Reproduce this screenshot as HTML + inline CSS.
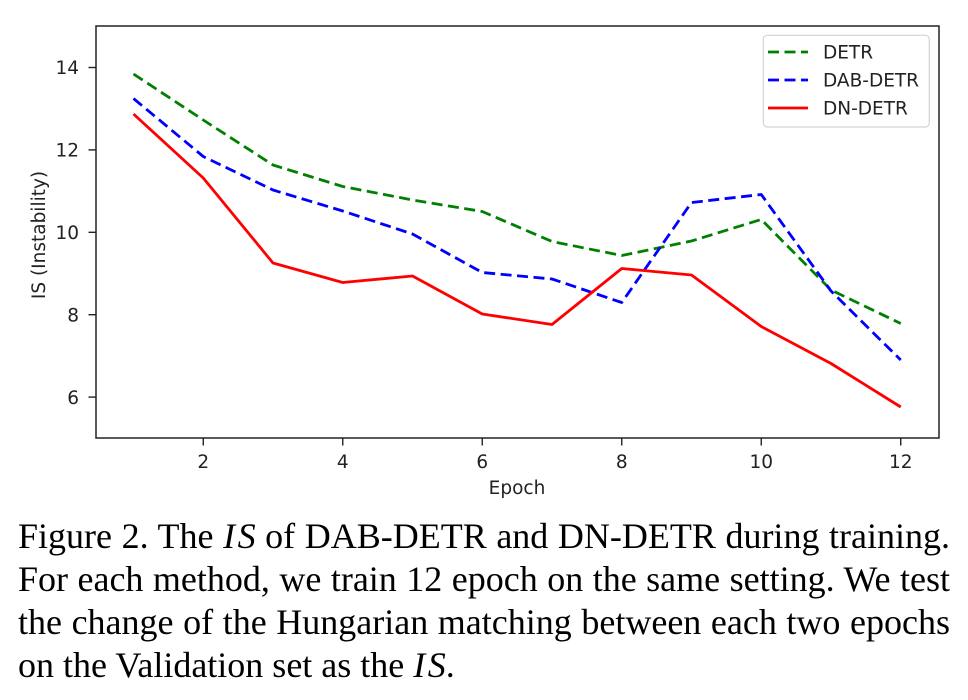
<!DOCTYPE html>
<html>
<head>
<meta charset="utf-8">
<style>
  html, body { margin:0; padding:0; background:#fff; }
  body { width:968px; height:700px; position:relative; overflow:hidden; }
  svg { position:absolute; left:0; top:0; }
  .cap { position:absolute; left:18px; width:932px; font-family:"Liberation Serif", serif; font-size:36px; line-height:43.3px; color:#000; white-space:nowrap; }
  .j { text-align:justify; text-align-last:justify; white-space:normal; }
  .cap i { letter-spacing:2.5px; }
  .cap i span { letter-spacing:0; }
</style>
</head>
<body>
<svg width="968" height="700" viewBox="0 0 968 700" xmlns="http://www.w3.org/2000/svg">
  <g font-family="DejaVu Sans, sans-serif" font-size="18.5" fill="#222">
    <g stroke="#222" stroke-width="1.4">
      <line x1="88.5" y1="67.5" x2="96" y2="67.5"/>
      <line x1="88.5" y1="149.9" x2="96" y2="149.9"/>
      <line x1="88.5" y1="232.3" x2="96" y2="232.3"/>
      <line x1="88.5" y1="314.7" x2="96" y2="314.7"/>
      <line x1="88.5" y1="397.1" x2="96" y2="397.1"/>
      <line x1="203.25" y1="438" x2="203.25" y2="445.5"/>
      <line x1="342.75" y1="438" x2="342.75" y2="445.5"/>
      <line x1="482.25" y1="438" x2="482.25" y2="445.5"/>
      <line x1="621.75" y1="438" x2="621.75" y2="445.5"/>
      <line x1="761.25" y1="438" x2="761.25" y2="445.5"/>
      <line x1="900.75" y1="438" x2="900.75" y2="445.5"/>
    </g>
    <g text-anchor="end">
      <text x="79" y="74.2">14</text>
      <text x="79" y="156.6">12</text>
      <text x="79" y="239">10</text>
      <text x="79" y="321.4">8</text>
      <text x="79" y="403.8">6</text>
    </g>
    <g text-anchor="middle">
      <text x="203.25" y="468.2">2</text>
      <text x="342.75" y="468.2">4</text>
      <text x="482.25" y="468.2">6</text>
      <text x="621.75" y="468.2">8</text>
      <text x="761.25" y="468.2">10</text>
      <text x="900.75" y="468.2">12</text>
      <text x="517" y="494">Epoch</text>
      <text transform="translate(45,235) rotate(-90)">IS (Instability)</text>
    </g>
  </g>

  <g fill="none" stroke-width="2.8" stroke-linejoin="round">
    <polyline stroke="#008000" stroke-dasharray="11 5.5"
      points="133.5,74 203.25,120 273,165 342.75,186.5 412.5,200 482.25,211.5 552,241.5 621.75,255.5 691.5,241 761.25,219.5 831,290 900.75,323.5"/>
    <polyline stroke="#0000ff" stroke-dasharray="11 5.5"
      points="133.5,98.5 203.25,156.5 273,190 342.75,211 412.5,234 482.25,272.5 552,279 621.75,302.5 691.5,202.5 761.25,194.5 831,291 900.75,360"/>
    <polyline stroke="#ff0000"
      points="133.5,114 203.25,178 273,263 342.75,282.5 412.5,276 482.25,314 552,324.5 621.75,268.5 691.5,275 761.25,326.5 831,363.5 900.75,407"/>
  </g>

  <rect x="96" y="26" width="843" height="412" fill="none" stroke="#222" stroke-width="1.5"/>

  <rect x="763.3" y="35.3" width="166" height="91.7" rx="4" ry="4" fill="#fff" fill-opacity="0.85" stroke="#d4d4d4" stroke-width="1.2"/>
  <g stroke-width="2.8">
    <line x1="768" y1="52" x2="808" y2="52" stroke="#008000" stroke-dasharray="11 5.5"/>
    <line x1="768" y1="80" x2="808" y2="80" stroke="#0000ff" stroke-dasharray="11 5.5"/>
    <line x1="768" y1="108" x2="808" y2="108" stroke="#ff0000"/>
  </g>
  <g font-family="DejaVu Sans, sans-serif" font-size="18.5" fill="#222">
    <text x="823" y="58.7">DETR</text>
    <text x="823" y="86.7">DAB-DETR</text>
    <text x="823" y="114.7">DN-DETR</text>
  </g>
</svg>

<div class="cap j" style="top:515.2px;">Figure 2. The <i>I<span>S</span></i> of DAB-DETR and DN-DETR during training.</div>
<div class="cap j" style="top:557.7px;">For each method, we train 12 epoch on the same setting. We test</div>
<div class="cap j" style="top:600.7px;">the change of the Hungarian matching between each two epochs</div>
<div class="cap" style="top:644.2px;">on the Validation set as the <i>I<span>S</span></i>.</div>
</body>
</html>
